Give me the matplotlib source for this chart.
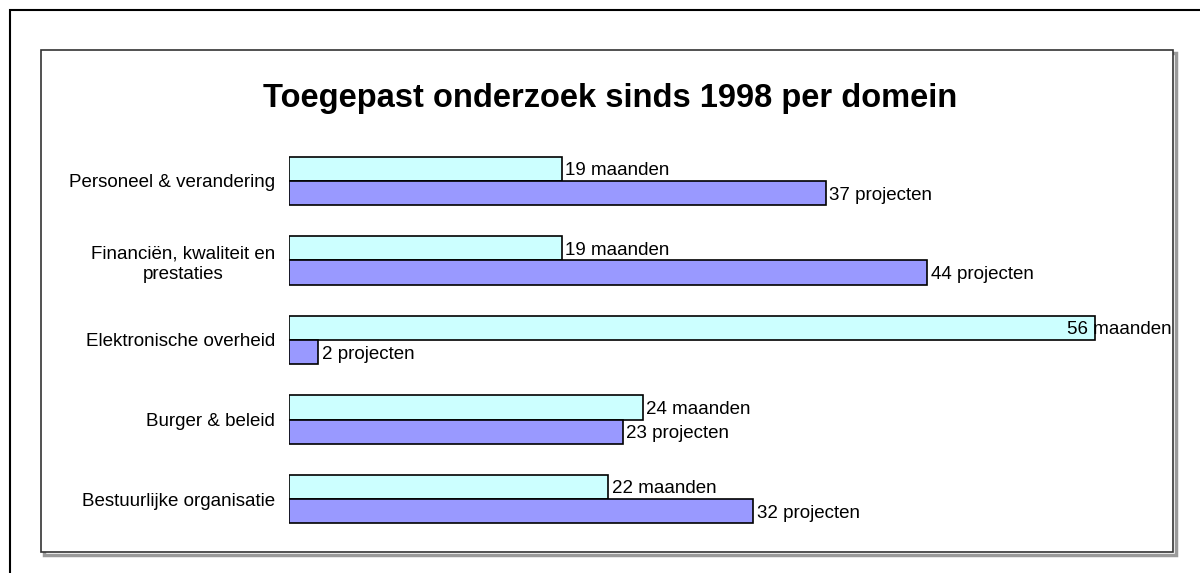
import matplotlib.pyplot as plt
from matplotlib.patches import Rectangle

# =========================
# data
# =========================
categories = [
    "Personeel & verandering",
    "Financiën, kwaliteit en\nprestaties",
    "Elektronische overheid",
    "Burger & beleid",
    "Bestuurlijke organisatie",
]
maanden = [18.8, 18.8, 55.6, 24.4, 22.0]
projecten = [37, 44, 2, 23, 32]

TITLE = "Toegepast onderzoek sinds 1998 per domein"
CYAN = "#CCFFFF"
PURPLE = "#9999FF"

W, H = 1200, 573
plt.rcParams["font.family"] = ["Liberation Sans", "DejaVu Sans"]

fig = plt.figure(figsize=(W / 100, H / 100), dpi=100)


def px_rect(x0, y0, x1, y1, **kw):
    # rectangle in pixel coords (top-left origin) -> figure fraction
    return Rectangle((x0 / W, 1 - y1 / H), (x1 - x0) / W, (y1 - y0) / H,
                     transform=fig.transFigure, zorder=-1, **kw)


# outer frame (cropped at right/bottom)
fig.patches.append(px_rect(10, 10, 1210, 583, fill=False, edgecolor="black", linewidth=1.5))
# inner frame with shadow
fig.patches.append(px_rect(44, 53, 1176, 555, fill=False, edgecolor="#9a9a9a", linewidth=2.5))
fig.patches.append(px_rect(41, 50, 1173, 552, facecolor="white", edgecolor="#333333", linewidth=1.2))

fig.text(610 / W, 1 - 99 / H, TITLE, ha="center", va="center",
         fontsize=23.5, fontweight="bold")

# axes: zero at x=289px, 14.5 px per unit; categories at 181 + 79.5*i px
x0_px, unit = 289, 14.5
xmax = 60
top_px, bot_px = 181 - 39.75, 499 + 39.75
ax = fig.add_axes([x0_px / W, 1 - bot_px / H, xmax * unit / W, (bot_px - top_px) / H])
ax.set_xlim(0, xmax)
ax.set_ylim(len(categories) - 0.5, -0.5)
ax.set_facecolor("none")
for s in ax.spines.values():
    s.set_visible(False)
ax.set_xticks([])

pos = list(range(len(categories)))
h = 0.302
ax.barh([p - h / 2 for p in pos], maanden, height=h, color=CYAN, edgecolor="black", linewidth=1.2)
ax.barh([p + h / 2 for p in pos], projecten, height=h, color=PURPLE, edgecolor="black", linewidth=1.2)

ax.set_yticks(pos)
ax.set_yticklabels(categories, fontsize=13.5, multialignment="center", linespacing=1.3)
ax.tick_params(axis="y", length=0, pad=10)

# value labels; keep inside the chart frame
limit = (1172 - x0_px) / unit
for p, m, n in zip(pos, maanden, projecten):
    for val, y, txt in [(m, p - h / 2, f"{m:.0f} maanden"), (n, p + h / 2, f"{n} projecten")]:
        t = ax.text(val + 0.25, y, txt, va="center_baseline", ha="left", fontsize=13.5)
        fig.canvas.draw()
        bb = t.get_window_extent()
        if bb.x1 > 1172:
            t.set_x(limit)
            t.set_ha("right")

fig.savefig("out.png", dpi=100)
